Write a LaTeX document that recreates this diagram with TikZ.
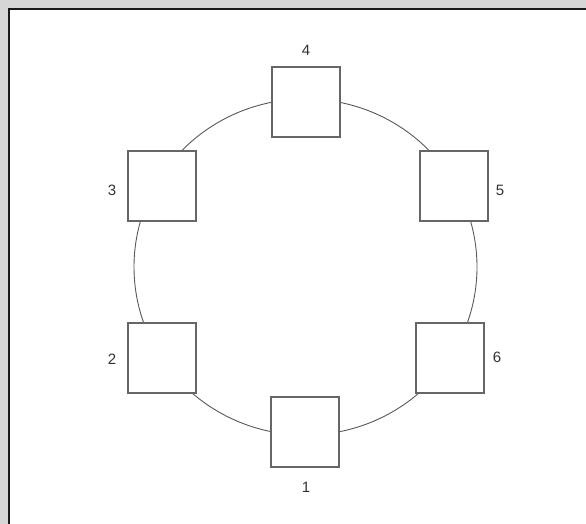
\documentclass[tikz,border=0pt]{standalone}
\usepackage{fontspec}
\setmainfont{Liberation Sans}
\begin{document}
\begin{tikzpicture}[x=1pt,y=-1pt,
  station/.style={draw=black!60,line width=1.2pt,fill=white,minimum width=68pt,minimum height=70pt,inner sep=0pt},
  lbl/.style={font=\fontsize{15}{17}\selectfont,text=black!80,inner sep=0pt},
  ring/.style={draw=black!65,line width=0.9pt}]
\useasboundingbox (0,0) rectangle (586,524);
\fill[black!16] (0,0) rectangle (586,524);
\fill[white] (9,9) rectangle (586,524);
\draw[black!90,line width=2pt] (9.3,530) -- (9.3,9.3) -- (590,9.3);
\coordinate (c) at (305.5,267);
\draw[ring] (c) ellipse[x radius=171.5,y radius=168];
\node[station] (b4) at (306,102) {};
\node[station] (b5) at (454,186) {};
\node[station] (b6) at (450,358) {};
\node[station] (b1) at (305,432) {};
\node[station] (b2) at (162,358) {};
\node[station] (b3) at (162,186) {};
\node[lbl] (l4) at (306,50) {4};
\node[lbl] (l5) at (500,190) {5};
\node[lbl] (l6) at (497,357) {6};
\node[lbl] (l1) at (306,487) {1};
\node[lbl] (l2) at (112,359) {2};
\node[lbl] (l3) at (112,190) {3};
\end{tikzpicture}
\end{document}
